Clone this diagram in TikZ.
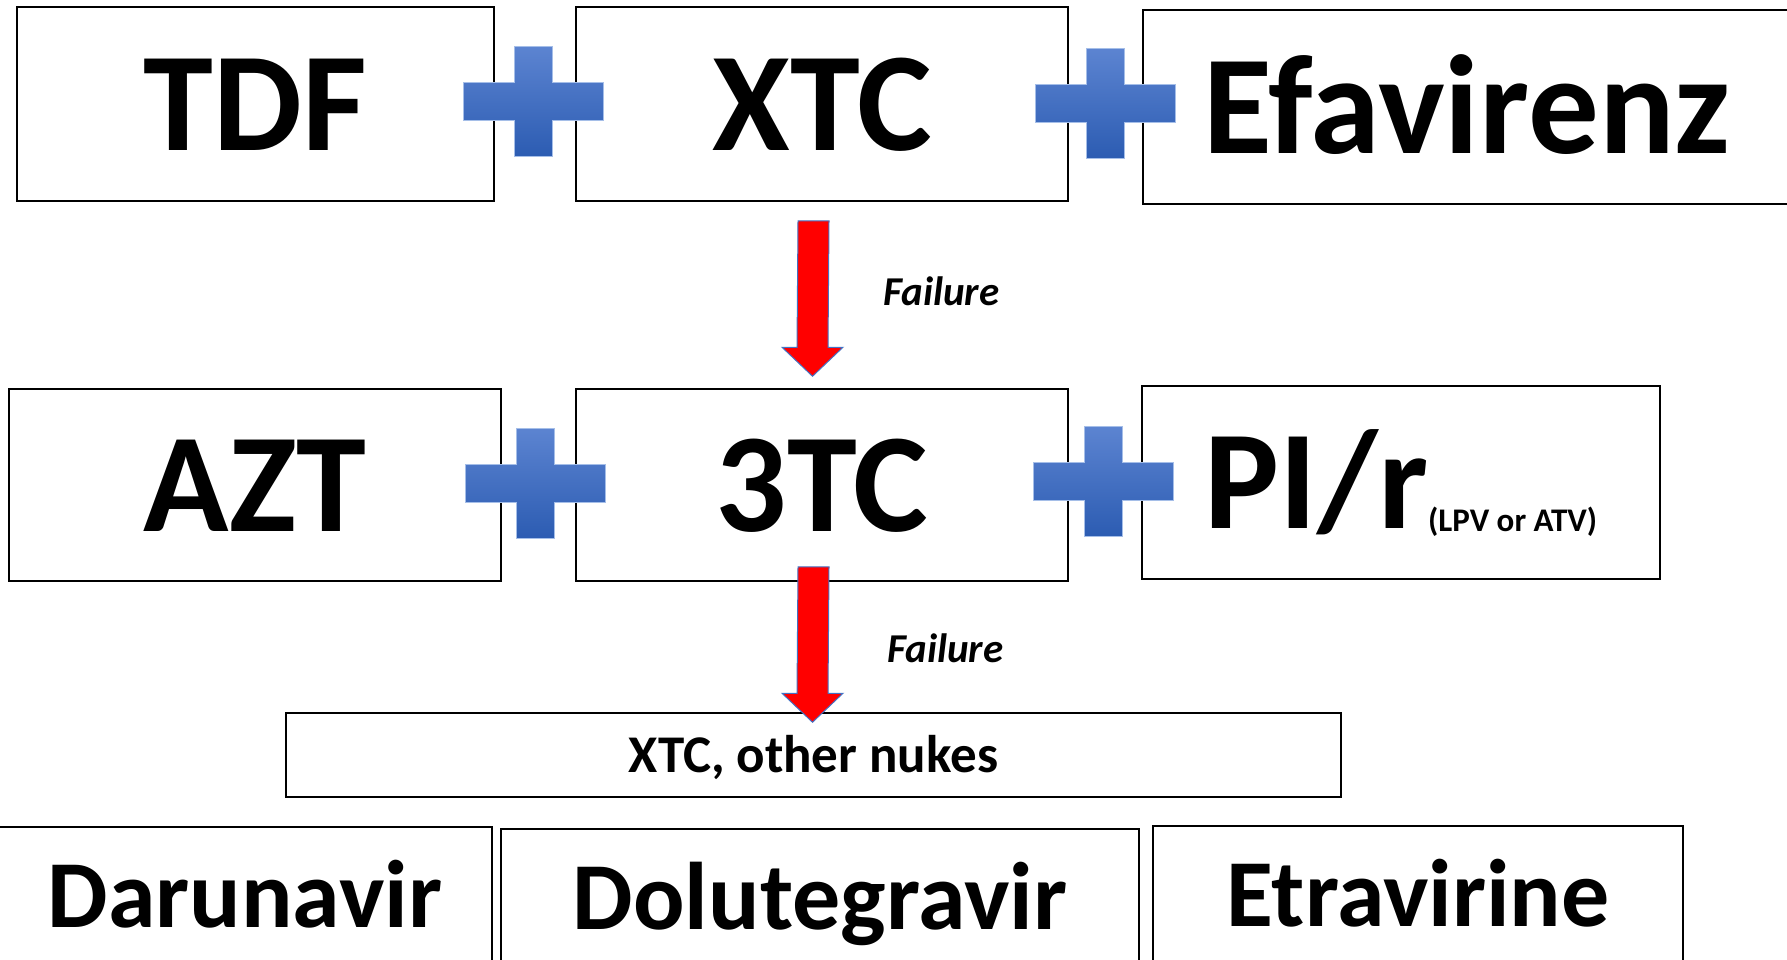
\documentclass[tikz,border=0pt]{standalone}
\usepackage{fontspec}
\setmainfont{Carlito}
\usetikzlibrary{calc}
\definecolor{plustop}{RGB}{92,132,209}
\definecolor{plusbot}{RGB}{44,92,178}
\definecolor{plusedge}{RGB}{165,190,232}
\definecolor{arrowedge}{RGB}{68,114,196}
\tikzset{
  drugbox/.style={draw=black, line width=1.5pt, rectangle, inner sep=0pt, align=center,
     font=\fontsize{141}{150}\selectfont\bfseries, text height=92pt, text depth=0pt},
  nukebox/.style={draw=black, line width=1.5pt, rectangle, inner sep=0pt,
     font=\fontsize{53}{60}\selectfont\bfseries, text height=35pt, text depth=0pt},
  lowbox/.style={draw=black, line width=1.5pt, rectangle, inner sep=0pt,
     font=\fontsize{96}{110}\selectfont\bfseries, text height=63pt, text depth=0pt},
  faillabel/.style={font=\fontsize{41}{44}\selectfont\bfseries\itshape, inner sep=0pt, anchor=base west},
  plusstyle/.style={top color=plustop, bottom color=plusbot, draw=plusedge, line width=1pt},
  failarrow/.style={fill=red, draw=arrowedge, line width=1pt, line join=miter},
  pics/plussign/.style={code={
    \path[plusstyle] (-70,-19) -- (-19,-19) -- (-19,-55) -- (19,-55) -- (19,-19) -- (70,-19)
      -- (70,19) -- (19,19) -- (19,55) -- (-19,55) -- (-19,19) -- (-70,19) -- cycle;}}
}
\newcommand\failarrowpath[2]{%
  \path[failarrow] ($#1+(-15.5,0)$) -- ($#2+(-15.5,-29)$) -- ($#2+(-30.5,-29)$) -- #2
    -- ($#2+(30.5,-29)$) -- ($#2+(15.5,-29)$) -- ($#1+(15.5,0)$) -- cycle;}
\begin{document}
\begin{tikzpicture}[x=1pt, y=-1pt]
\useasboundingbox (0,0) rectangle (1787,959);
\clip (0,0) rectangle (1787,959);
\fill[white] (0,0) rectangle (1787,959);
% row 1
\node[drugbox, minimum width=477pt, minimum height=194pt] (tdf) at (255.5,104) {TDF};
\node[drugbox, minimum width=492pt, minimum height=194pt] (xtc) at (822,104) {XTC};
\node[drugbox, minimum width=648pt, minimum height=194pt] (efv) at (1467,107) {Efavirenz};
% row 2
\node[drugbox, minimum width=492pt, minimum height=192pt] (azt) at (255,485) {AZT};
\node[drugbox, minimum width=492pt, minimum height=192pt] (tc3) at (822,485) {3TC};
\node[drugbox, minimum width=518pt, minimum height=193pt] (pir) at (1401,482.5)
  {PI/r\raisebox{-3pt}{\fontsize{33}{36}\selectfont(LPV or ATV)}};
% row 3
\node[nukebox, minimum width=1055pt, minimum height=84pt] (nukes) at (813.5,755) {XTC, other nukes};
% row 4
\node[lowbox, minimum width=494pt, minimum height=137pt] (dar) at (245,895.5) {Darunavir};
\node[lowbox, minimum width=638pt, minimum height=137pt] (dol) at (820,897.5) {Dolutegravir};
\node[lowbox, minimum width=530pt, minimum height=137pt] (etr) at (1418,894.5) {Etravirine};
% plus signs
\pic at (533,101.5) {plussign};
\pic at (1105,103.5) {plussign};
\pic at (535,483) {plussign};
\pic at (1103,481.5) {plussign};
% failure arrows
\coordinate (a1s) at ($(xtc.south)+(-8.5,19)$);
\coordinate (a1e) at ($(tc3.north)+(-9.5,-12)$);
\coordinate (a2s) at ($(tc3.south)+(-8.5,-15)$);
\coordinate (a2e) at ($(nukes.north)+(-1,10)$);
\failarrowpath{(a1s)}{(a1e)}
\failarrowpath{(a2s)}{(a2e)}
\node[faillabel] (f1) at (883,305) {Failure};
\node[faillabel] (f2) at (887,662) {Failure};
\end{tikzpicture}
\end{document}
